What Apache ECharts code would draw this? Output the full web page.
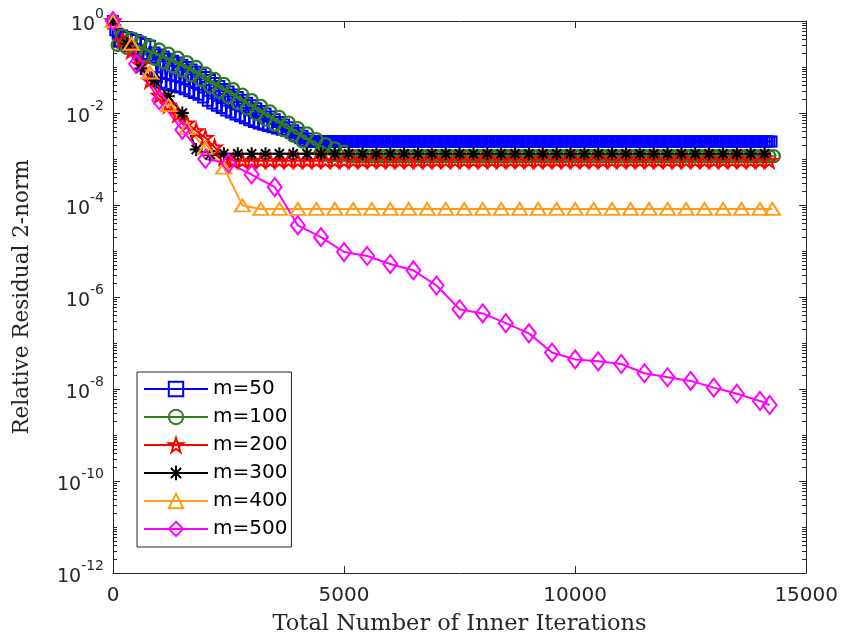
<!DOCTYPE html>
<html>
<head>
<meta charset="utf-8">
<title>Relative residual vs inner iterations</title>
<script src="https://cdn.jsdelivr.net/npm/echarts@6.0.0/dist/echarts.min.js"></script>
<style>
  html, body { margin: 0; padding: 0; background: #fff; }
  #chart { width: 841px; height: 641px; }
</style>
</head>
<body>
<div id="chart"></div>
<script>
// legend names, one per restart length m
const seriesNames = ['m=50', 'm=100', 'm=200', 'm=300', 'm=400', 'm=500'];
// inner iterations per restart cycle (one marker per cycle)
const restartLen = [50, 100, 200, 300, 400, 500];
// iteration count of the very last point of each run
const lastIter = [14250, 14300, 14200, 14100, 14270, 14210];

// relative residual at the end of each cycle
const res50 = [
  1, 0.63, 0.525, 0.352, 0.482, 0.315, 0.448, 0.281, 0.418, 0.245,
  0.384, 0.214, 0.347, 0.192, 0.316, 0.175, 0.289, 0.158, 0.207, 0.0597,
  0.188, 0.0452, 0.169, 0.0426, 0.152, 0.0403, 0.137, 0.038, 0.125, 0.036,
  0.112, 0.0327, 0.10, 0.0298, 0.088, 0.0272, 0.079, 0.0249, 0.070, 0.0217,
  0.0603, 0.0184, 0.052, 0.016, 0.0448, 0.0143, 0.0385, 0.0128, 0.0334, 0.0114,
  0.0292, 0.0102, 0.0254, 0.0093, 0.0222, 0.00845, 0.0193, 0.0077, 0.0168, 0.007,
  0.0147, 0.00637, 0.0127, 0.00588, 0.0111, 0.00554, 0.0097, 0.0052, 0.0084, 0.0049,
  0.0073, 0.00459, 0.0064, 0.00432, 0.0056, 0.00405, 0.0049, 0.00373, 0.0042, 0.00324,
  0.0037, 0.00284, 0.0032, 0.00246, 0.0028,
  2.4e-3, 2.4e-3, 2.4e-3, 2.4e-3, 2.4e-3, 2.4e-3, 2.4e-3, 2.4e-3, 2.4e-3, 2.4e-3, 2.4e-3, 2.4e-3, 2.4e-3, 2.4e-3, 2.4e-3, 2.4e-3, 2.4e-3, 2.4e-3, 2.4e-3, 2.4e-3,
  2.4e-3, 2.4e-3, 2.4e-3, 2.4e-3, 2.4e-3, 2.4e-3, 2.4e-3, 2.4e-3, 2.4e-3, 2.4e-3, 2.4e-3, 2.4e-3, 2.4e-3, 2.4e-3, 2.4e-3, 2.4e-3, 2.4e-3, 2.4e-3, 2.4e-3, 2.4e-3,
  2.4e-3, 2.4e-3, 2.4e-3, 2.4e-3, 2.4e-3, 2.4e-3, 2.4e-3, 2.4e-3, 2.4e-3, 2.4e-3, 2.4e-3, 2.4e-3, 2.4e-3, 2.4e-3, 2.4e-3, 2.4e-3, 2.4e-3, 2.4e-3, 2.4e-3, 2.4e-3,
  2.4e-3, 2.4e-3, 2.4e-3, 2.4e-3, 2.4e-3, 2.4e-3, 2.4e-3, 2.4e-3, 2.4e-3, 2.4e-3, 2.4e-3, 2.4e-3, 2.4e-3, 2.4e-3, 2.4e-3, 2.4e-3, 2.4e-3, 2.4e-3, 2.4e-3, 2.4e-3,
  2.4e-3, 2.4e-3, 2.4e-3, 2.4e-3, 2.4e-3, 2.4e-3, 2.4e-3, 2.4e-3, 2.4e-3, 2.4e-3, 2.4e-3, 2.4e-3, 2.4e-3, 2.4e-3, 2.4e-3, 2.4e-3, 2.4e-3, 2.4e-3, 2.4e-3, 2.4e-3,
  2.4e-3, 2.4e-3, 2.4e-3, 2.4e-3, 2.4e-3, 2.4e-3, 2.4e-3, 2.4e-3, 2.4e-3, 2.4e-3, 2.4e-3, 2.4e-3, 2.4e-3, 2.4e-3, 2.4e-3, 2.4e-3, 2.4e-3, 2.4e-3, 2.4e-3, 2.4e-3,
  2.4e-3, 2.4e-3, 2.4e-3, 2.4e-3, 2.4e-3, 2.4e-3, 2.4e-3, 2.4e-3, 2.4e-3, 2.4e-3, 2.4e-3, 2.4e-3, 2.4e-3, 2.4e-3, 2.4e-3, 2.4e-3, 2.4e-3, 2.4e-3, 2.4e-3, 2.4e-3,
  2.4e-3, 2.4e-3, 2.4e-3, 2.4e-3, 2.4e-3, 2.4e-3, 2.4e-3, 2.4e-3, 2.4e-3, 2.4e-3, 2.4e-3, 2.4e-3, 2.4e-3, 2.4e-3, 2.4e-3, 2.4e-3, 2.4e-3, 2.4e-3, 2.4e-3, 2.4e-3,
  2.4e-3, 2.4e-3, 2.4e-3, 2.4e-3, 2.4e-3, 2.4e-3, 2.4e-3, 2.4e-3, 2.4e-3, 2.4e-3, 2.4e-3, 2.4e-3, 2.4e-3, 2.4e-3, 2.4e-3, 2.4e-3, 2.4e-3, 2.4e-3, 2.4e-3, 2.4e-3,
  2.4e-3, 2.4e-3, 2.4e-3, 2.4e-3, 2.4e-3, 2.4e-3, 2.4e-3, 2.4e-3, 2.4e-3, 2.4e-3, 2.4e-3, 2.4e-3, 2.4e-3, 2.4e-3, 2.4e-3, 2.4e-3, 2.4e-3, 2.4e-3, 2.4e-3, 2.4e-3,
  2.4e-3
];
const res100 = [
  1, 0.30, 0.48, 0.26, 0.42, 0.22, 0.35, 0.18, 0.29, 0.15,
  0.24, 0.126, 0.195, 0.103, 0.16, 0.083, 0.128, 0.066, 0.10, 0.052,
  0.073, 0.037, 0.055, 0.029, 0.043, 0.022, 0.033, 0.0165, 0.025, 0.0125,
  0.019, 0.0095, 0.0143, 0.0072, 0.0108, 0.0055, 0.0082, 0.0042, 0.0062, 0.0032,
  0.0047, 0.0024, 0.0036, 0.00182, 0.0027, 0.00139, 0.0021, 0.00117, 0.0017, 0.00117,
  0.00144,
  1.15e-3, 1.15e-3, 1.15e-3, 1.15e-3, 1.15e-3, 1.15e-3, 1.15e-3, 1.15e-3, 1.15e-3, 1.15e-3, 1.15e-3, 1.15e-3, 1.15e-3, 1.15e-3, 1.15e-3, 1.15e-3, 1.15e-3, 1.15e-3, 1.15e-3, 1.15e-3,
  1.15e-3, 1.15e-3, 1.15e-3, 1.15e-3, 1.15e-3, 1.15e-3, 1.15e-3, 1.15e-3, 1.15e-3, 1.15e-3, 1.15e-3, 1.15e-3, 1.15e-3, 1.15e-3, 1.15e-3, 1.15e-3, 1.15e-3, 1.15e-3, 1.15e-3, 1.15e-3,
  1.15e-3, 1.15e-3, 1.15e-3, 1.15e-3, 1.15e-3, 1.15e-3, 1.15e-3, 1.15e-3, 1.15e-3, 1.15e-3, 1.15e-3, 1.15e-3, 1.15e-3, 1.15e-3, 1.15e-3, 1.15e-3, 1.15e-3, 1.15e-3, 1.15e-3, 1.15e-3,
  1.15e-3, 1.15e-3, 1.15e-3, 1.15e-3, 1.15e-3, 1.15e-3, 1.15e-3, 1.15e-3, 1.15e-3, 1.15e-3, 1.15e-3, 1.15e-3, 1.15e-3, 1.15e-3, 1.15e-3, 1.15e-3, 1.15e-3, 1.15e-3, 1.15e-3, 1.15e-3,
  1.15e-3, 1.15e-3, 1.15e-3, 1.15e-3, 1.15e-3, 1.15e-3, 1.15e-3, 1.15e-3, 1.15e-3, 1.15e-3, 1.15e-3, 1.15e-3, 1.15e-3
];
const res200 = [
  1, 0.37, 0.225, 0.113, 0.051, 0.024, 0.0148, 0.0094, 0.006, 0.0041,
  0.0029, 0.0018, 0.00107, 0.00092,
  9.2e-4, 9.2e-4, 9.2e-4, 9.2e-4, 9.2e-4, 9.2e-4, 9.2e-4, 9.2e-4, 9.2e-4, 9.2e-4, 9.2e-4, 9.2e-4, 9.2e-4, 9.2e-4, 9.2e-4, 9.2e-4, 9.2e-4, 9.2e-4, 9.2e-4, 9.2e-4,
  9.2e-4, 9.2e-4, 9.2e-4, 9.2e-4, 9.2e-4, 9.2e-4, 9.2e-4, 9.2e-4, 9.2e-4, 9.2e-4, 9.2e-4, 9.2e-4, 9.2e-4, 9.2e-4, 9.2e-4, 9.2e-4, 9.2e-4, 9.2e-4, 9.2e-4, 9.2e-4,
  9.2e-4, 9.2e-4, 9.2e-4, 9.2e-4, 9.2e-4, 9.2e-4, 9.2e-4, 9.2e-4, 9.2e-4, 9.2e-4, 9.2e-4, 9.2e-4, 9.2e-4, 9.2e-4, 9.2e-4, 9.2e-4, 9.2e-4, 9.2e-4
];
const res300 = [
  1, 0.32, 0.093, 0.051, 0.023, 0.01, 0.0016, 0.00124,
  1.3e-3, 1.3e-3, 1.3e-3, 1.3e-3, 1.3e-3, 1.3e-3, 1.3e-3, 1.3e-3, 1.3e-3, 1.3e-3, 1.3e-3, 1.3e-3, 1.3e-3, 1.3e-3, 1.3e-3, 1.3e-3, 1.3e-3, 1.3e-3, 1.3e-3, 1.3e-3,
  1.3e-3, 1.3e-3, 1.3e-3, 1.3e-3, 1.3e-3, 1.3e-3, 1.3e-3, 1.3e-3, 1.3e-3, 1.3e-3, 1.3e-3, 1.3e-3, 1.3e-3, 1.3e-3, 1.3e-3, 1.3e-3, 1.3e-3, 1.3e-3, 1.3e-3, 1.3e-3
];
const res400 = [
  1, 0.32, 0.076, 0.0148, 0.0047, 0.00174, 0.00065, 0.000098,
  8.2e-5, 8.2e-5, 8.2e-5, 8.2e-5, 8.2e-5, 8.2e-5, 8.2e-5, 8.2e-5, 8.2e-5, 8.2e-5, 8.2e-5, 8.2e-5, 8.2e-5, 8.2e-5, 8.2e-5, 8.2e-5, 8.2e-5, 8.2e-5, 8.2e-5, 8.2e-5,
  8.2e-5, 8.2e-5, 8.2e-5, 8.2e-5, 8.2e-5, 8.2e-5, 8.2e-5, 8.2e-5, 8.2e-5
];
const res500 = [
  1, 0.117, 0.019, 0.0043, 1.0e-3, 8.1e-4, 4.6e-4, 2.45e-4, 3.6e-5, 2.0e-5,
  9.5e-6, 7.8e-6, 5.2e-6, 3.8e-6, 1.78e-6, 5.4e-7, 4.4e-7, 2.7e-7, 1.62e-7, 6.2e-8,
  4.4e-8, 4.0e-8, 3.5e-8, 2.2e-8, 1.8e-8, 1.5e-8, 1.07e-8, 7.9e-9, 5.5e-9, 4.5e-9
];

// axis ticks
const xTicks = [0, 5000, 10000, 15000];
const yLabelTicks = [1e-12, 1e-10, 1e-8, 1e-6, 1e-4, 1e-2, 1];

const allRes = [res50, res100, res200, res300, res400, res500];
const colors = ['#0000ff', '#2f7d1f', '#ff0000', '#000000', '#ff9c1a', '#ff00ff'];
const symbols = [
  'rect', 'circle',
  'path://M0,-100L22.45,-30.9L95.1,-30.9L36.3,11.8L58.8,80.9L0,38.2L-58.8,80.9L-36.3,11.8L-95.1,-30.9L-22.45,-30.9Z',
  'path://M0,-100L0,100M-100,0L100,0M-70,-70L70,70M-70,70L70,-70',
  'triangle', 'diamond'
];
const symbolSizes = [10, 12, 14, 13, [15, 12], [14, 18]];
const markerWidths = [2, 2.3, 2, 2, 2, 2];

// minor ticks at 1..9 x 10^k (MATLAB style), except where a label sits
let yMinorTicks = [];
for (let d = -12; d < 0; d++) {
  for (let j = 1; j <= 9; j++) {
    if (j === 1 && d % 2 === 0) continue;
    yMinorTicks.push(j * Math.pow(10, d));
  }
}

const axisColor = '#262626';
const tickFont = 'DejaVu Sans';

function toPairs(vals, m, endX) {
  return vals.map(function (v, k) {
    return [k === vals.length - 1 ? endX : k * m, v];
  });
}

let series = seriesNames.map(function (name, i) {
  return {
    name: name,
    type: 'line',
    xAxisIndex: 0,
    yAxisIndex: 0,
    data: toPairs(allRes[i], restartLen[i], lastIter[i]),
    symbol: symbols[i],
    symbolSize: symbolSizes[i],
    showAllSymbol: true,
    animation: false,
    lineStyle: { color: colors[i], width: 2 },
    itemStyle: { color: 'none', borderColor: colors[i], borderWidth: markerWidths[i] }
  };
});

function yLabel(v) {
  let e = Math.round(Math.log10(v));
  return '{b|10}{e|' + e + '}';
}

let yRich = {
  b: { fontSize: 19, fontFamily: tickFont, color: axisColor, lineHeight: 27, verticalAlign: 'bottom' },
  e: { fontSize: 14, fontFamily: tickFont, color: axisColor, lineHeight: 15, verticalAlign: 'top' }
};

let myChart = echarts.init(document.getElementById('chart'));
myChart.setOption({
  animation: false,
  backgroundColor: '#ffffff',
  grid: { left: 113, right: 34, top: 21, bottom: 64, containLabel: false },
  legend: {
    orient: 'vertical',
    left: 137,
    top: 372,
    data: seriesNames,
    itemWidth: 64,
    itemHeight: 18,
    itemGap: 8,
    padding: [7, 4, 8, 6],
    backgroundColor: '#ffffff',
    borderColor: axisColor,
    borderWidth: 1,
    selectedMode: false,
    textStyle: { fontSize: 20, fontFamily: tickFont, color: '#000' }
  },
  xAxis: [
    {
      type: 'value', position: 'bottom', min: 0, max: 15000,
      name: 'Total Number of Inner Iterations',
      nameLocation: 'middle', nameGap: 40,
      nameTextStyle: { fontFamily: 'DejaVu Serif', fontSize: 22.5, color: axisColor },
      axisLine: { show: true, lineStyle: { color: axisColor, width: 1 } },
      axisTick: { show: true, inside: true, length: 7, customValues: xTicks, lineStyle: { color: axisColor } },
      axisLabel: {
        customValues: xTicks, fontSize: 20, fontFamily: tickFont, color: axisColor, margin: 13,
        formatter: function (v) { return String(v); }
      },
      splitLine: { show: false }
    },
    {
      type: 'value', position: 'top', min: 0, max: 15000,
      axisLine: { show: true, lineStyle: { color: axisColor, width: 1 } },
      axisTick: { show: true, inside: true, length: 7, customValues: xTicks, lineStyle: { color: axisColor } },
      axisLabel: { show: false },
      splitLine: { show: false }
    }
  ],
  yAxis: [
    {
      type: 'log', logBase: 10, position: 'left', min: 1e-12, max: 1,
      name: 'Relative Residual 2-norm',
      nameLocation: 'middle', nameGap: 80,
      nameTextStyle: { fontFamily: 'DejaVu Serif', fontSize: 21.5, color: axisColor },
      axisLine: { show: true, lineStyle: { color: axisColor, width: 1 } },
      axisTick: { show: true, inside: true, length: 7, customValues: yLabelTicks, lineStyle: { color: axisColor } },
      axisLabel: { customValues: yLabelTicks, formatter: yLabel, rich: yRich, margin: 9 },
      splitLine: { show: false }
    },
    {
      type: 'log', logBase: 10, position: 'left', min: 1e-12, max: 1,
      axisLine: { show: false },
      axisTick: { show: true, inside: true, length: 4, customValues: yMinorTicks, lineStyle: { color: axisColor } },
      axisLabel: { show: false },
      splitLine: { show: false }
    },
    {
      type: 'log', logBase: 10, position: 'right', min: 1e-12, max: 1,
      axisLine: { show: true, lineStyle: { color: axisColor, width: 1 } },
      axisTick: { show: true, inside: true, length: 7, customValues: yLabelTicks, lineStyle: { color: axisColor } },
      axisLabel: { show: false },
      splitLine: { show: false }
    },
    {
      type: 'log', logBase: 10, position: 'right', min: 1e-12, max: 1,
      axisLine: { show: false },
      axisTick: { show: true, inside: true, length: 4, customValues: yMinorTicks, lineStyle: { color: axisColor } },
      axisLabel: { show: false },
      splitLine: { show: false }
    }
  ],
  series: series
});
</script>
</body>
</html>
